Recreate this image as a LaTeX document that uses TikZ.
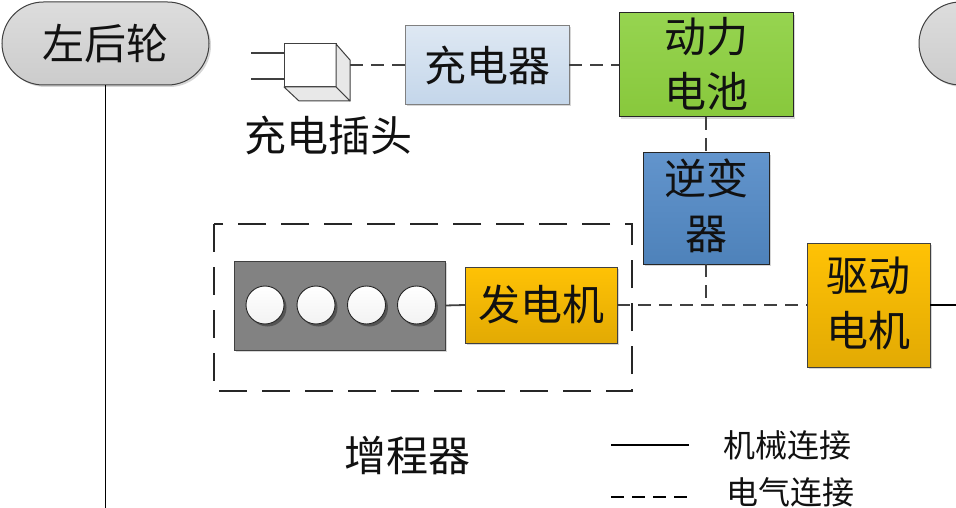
\documentclass[tikz,border=0pt]{standalone}
\usepackage{fontspec}
\setmainfont{Noto Sans CJK SC}
\usetikzlibrary{shapes.misc,shadows}
\definecolor{inkc}{HTML}{111111}
\definecolor{edgec}{HTML}{404040}
\tikzset{
  softshadow/.style={drop shadow={shadow xshift=2pt,shadow yshift=-2pt,opacity=.16,fill=black}},
  boxbase/.style={draw=edgec,line width=1pt,inner sep=0pt,outer sep=0pt,align=center,text=inkc,softshadow,
     font=\fontsize{42}{55}\selectfont},
  wheel/.style={boxbase,rounded rectangle,minimum width=207pt,minimum height=83pt,top color=gray!27,bottom color=gray!40},
  charger/.style={boxbase,draw=gray,top color={rgb,255:red,222;green,232;blue,243},bottom color={rgb,255:red,196;green,214;blue,234}},
  battery/.style={boxbase,draw=black!85,top color={rgb,255:red,150;green,212;blue,80},bottom color={rgb,255:red,136;green,200;blue,60}},
  inverter/.style={boxbase,draw=black!85,top color={rgb,255:red,98;green,148;blue,204},bottom color={rgb,255:red,78;green,130;blue,186}},
  yellowbox/.style={boxbase,top color={rgb,255:red,255;green,194;blue,5},bottom color={rgb,255:red,226;green,170;blue,4}},
  engine/.style={boxbase,fill=gray!98,draw=black!75},
  cyl/.style={circle,draw=black!85,line width=.9pt,inner sep=0pt,outer sep=0pt,minimum size=38pt,top color=white,bottom color=gray!10,
     drop shadow={shadow xshift=2.5pt,shadow yshift=-2.5pt,opacity=.35,fill=black}},
  lbl/.style={inner sep=0pt,text=inkc,font=\fontsize{42}{55}\selectfont},
  smalllbl/.style={inner sep=0pt,text=inkc,font=\fontsize{32}{36}\selectfont},
  mech/.style={draw=black,line width=1.8pt},
  elec/.style={draw=edgec,line width=1.8pt,dash pattern=on 13pt off 8pt},
  group/.style={draw=black!85,line width=1.8pt,dash pattern=on 28pt off 15pt},
  plugface/.style={draw=edgec,line width=1pt,fill=white,inner sep=0pt,outer sep=0pt},
  plugside/.style={draw=edgec,line width=1pt,fill=gray!18,line join=round},
}
\begin{document}
\begin{tikzpicture}[x=1pt,y=-1pt]
\useasboundingbox (0,0) rectangle (956,508);
\clip (0,0) rectangle (956,508);
\fill[white] (0,0) rectangle (956,508);

% wheels
\node[wheel] (lw) at (105.5,43.5) {左后轮};
\node[wheel] (rw) at (1022.5,43.5) {};
\coordinate (lwend) at (105,508);
\draw[mech] (lw.south) -- (lw.south |- lwend);

% plug
\node[plugface,minimum width=52pt,minimum height=43pt] (plug) at (310,65.5) {};
\coordinate (plugr) at (350,65);
\draw[plugside] (plug.north east) -- (350,60) -- (350,101) -- (plug.south east) -- cycle;
\draw[plugside] (plug.south west) -- (299,101) -- (350,101) -- (plug.south east) -- cycle;
\coordinate (prongA) at (251,53);
\coordinate (prongB) at (251,79);
\draw[edgec,line width=1.4pt] (prongA) -- (prongA -| plug.west);
\draw[edgec,line width=1.4pt] (prongB) -- (prongB -| plug.west);
\node[lbl] (pluglbl) at (328,135) {充电插头};

% boxes
\node[charger,minimum width=164pt,minimum height=79pt] (chg) at (487,65) {充电器};
\node[battery,minimum width=174pt,minimum height=104pt,text height=94pt,text depth=8pt] (bat) at (706,65) {动力\\[0pt]电池};
\node[inverter,minimum width=126pt,minimum height=111pt,text height=91pt,text depth=10pt] (inv) at (706,208.5) {逆变\\[0pt]器};
\node[yellowbox,minimum width=123pt,minimum height=124pt,text height=92pt,text depth=10pt] (mot) at (868.5,305) {驱动\\[0pt]电机};
\node[yellowbox,minimum width=152pt,minimum height=76pt] (gen) at (541,305) {发电机};
\node[engine,minimum width=211pt,minimum height=89pt] (eng) at (339.5,305.5) {};
\node[cyl] (c1) at (265,305) {};
\node[cyl] (c2) at (316,305) {};
\node[cyl] (c3) at (366.5,305) {};
\node[cyl] (c4) at (416.5,305) {};

% group outline
\draw[group] (214,224) rectangle (632,391);
\node[lbl] (rext) at (407,455) {增程器};

% connectors
\draw[elec] (plugr) -- (chg.west);
\draw[elec] (chg.east) -- (chg.east -| bat.west);
\draw[elec] (bat.south) -- (inv.north);
\coordinate (junc) at (inv.south |- mot.west);
\draw[elec] (inv.south) -- (junc);
\draw[elec] (gen.east |- mot.west) -- (mot.west);
\draw[mech,draw=edgec] (eng.east) -- (gen.west);
\coordinate (motr) at (956,305);
\draw[mech] (mot.east) -- (motr);

% legend
\coordinate (la) at (611,445);
\coordinate (lb) at (689,445);
\coordinate (lc) at (611,497);
\coordinate (ld) at (689,497);
\draw[mech] (la) -- (lb);
\draw[elec,draw=black] (lc) -- (ld);
\node[smalllbl] (leg1) at (787.5,445) {机械连接};
\node[smalllbl] (leg2) at (790,492) {电气连接};
\end{tikzpicture}
\end{document}
